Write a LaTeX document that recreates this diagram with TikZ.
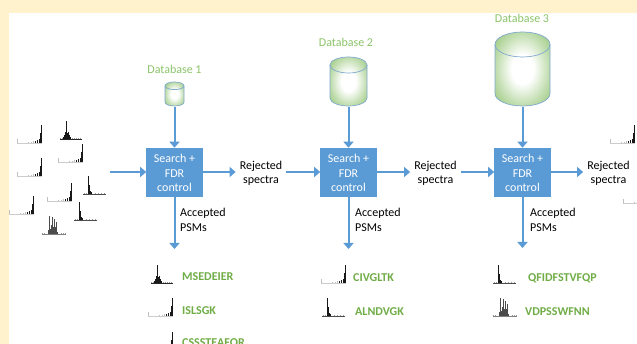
\documentclass[tikz,border=0pt]{standalone}
\usepackage{fontspec}
\setmainfont{Carlito}
\usetikzlibrary{arrows.meta}
\definecolor{cream}{HTML}{FFF2CC}
\definecolor{boxblue}{HTML}{5B9BD5}
\definecolor{pepgreen}{HTML}{70AD47}
\definecolor{dbgreen}{HTML}{8CC46A}
\definecolor{cylgreen}{HTML}{8FC26E}
\definecolor{cyledge}{HTML}{7FA9CF}
\pgfdeclareradialshading{cylshade}{\pgfpoint{0bp}{0bp}}{%
 color(0bp)=(white); color(10bp)=(white); color(24bp)=(cylgreen!55); color(34bp)=(cylgreen!90); color(50bp)=(cylgreen)}
\newcommand{\specbars}[2]{%
 \foreach \bx/\bh in {#1} {\draw[line width=.45pt,black!#2] (\bx,0) -- (\bx,-\bh);}}
\newcommand{\lowered}{\rule{0pt}{11pt}}
\tikzset{
 x=1pt,y=-1pt,
 searchbox/.style={fill=boxblue,draw=boxblue,line width=.6pt,text=white,font=\fontsize{12}{14.5}\selectfont,
   minimum width=56pt,minimum height=48pt,inner sep=0pt,align=center},
 flow/.style={draw=boxblue,line width=2pt,-{Triangle[length=6pt,width=10pt]}},
 reject/.style={font=\fontsize{12}{14.5}\selectfont,align=center,inner sep=4pt},
 accept/.style={font=\fontsize{12}{14.5}\selectfont,align=left,anchor=west,inner sep=0pt},
 dblabel/.style={text=dbgreen,font=\fontsize{12}{14}\selectfont,inner sep=0pt},
 peptide/.style={text=pepgreen,font=\fontsize{12}{14}\selectfont\bfseries,anchor=west,inner sep=0pt},
 dbanchor/.style={inner sep=0pt,minimum width=2pt,minimum height=2pt},
 specR/.pic={
  \specbars{0/4,11/1,14/1,16/2}{25}
  \specbars{18.5/2,20.5/3,22.5/4,23/7,23.6/10,24.1/18,24.6/11}{90}
  \draw[line width=.3pt,black!20] (0,0) -- (25,0);},
 specP/.pic={
  \specbars{3/1,5/1,15/1,17/1,19/1,21/1,23/1}{40}
  \specbars{6.5/2,7.5/4,8.2/7,8.8/18,9.4/10,10.2/6,11/7,11.8/4,12.6/3,13.6/2}{90}
  \draw[line width=.4pt,black!85] (3,0) -- (25,0);},
 specN/.pic={
  \specbars{2/1,4/1,13/1,16/1,19/1,22/1}{40}
  \specbars{5.8/2,6.7/18,7.3/9,8/3,9/2}{90}
  \draw[line width=.4pt,black!70] (1,0) -- (24,0);},
 specC/.pic={
  \specbars{1/1,3/1,20/1,22/1,24/1}{40}
  \specbars{7/4,8/18,9/5,10/9,11/17,12/7,13/15,14/7,15/12,16/2}{70}
  \draw[line width=.3pt,black!50] (1,0) -- (25,0);},
}
\newcommand{\database}[6]{% name, x left, x right, y top, y bottom, ry
 \pgfmathsetmacro{\rxv}{(#3-#2)/2}
 \pgfmathsetmacro{\cxv}{(#3+#2)/2}
 \pgfmathsetmacro{\tyv}{#4+#6}
 \pgfmathsetmacro{\byv}{#5-#6}
 \path[shading=cylshade,draw=none] (#2,\tyv) arc[start angle=180,end angle=360,x radius=\rxv,y radius=#6] -- (#3,\byv) arc[start angle=0,end angle=180,x radius=\rxv,y radius=#6] -- cycle;
 \draw[cyledge,line width=.7pt] (#2,\tyv) arc[start angle=180,end angle=360,x radius=\rxv,y radius=#6] -- (#3,\byv) arc[start angle=0,end angle=180,x radius=\rxv,y radius=#6] -- cycle;
 \draw[cyledge,line width=.7pt] (#2,\tyv) arc[start angle=180,end angle=0,x radius=\rxv,y radius=#6];
 \node[dbanchor] (#1) at (\cxv,#5) {};
}
\begin{document}
\begin{tikzpicture}
\useasboundingbox (0,0) rectangle (637,344);
\clip (0,0) rectangle (637,344);
\fill[cream] (0,0) rectangle (637,344);
\fill[white] (9,13) rectangle (637,344);

% input spectra
\pic at (17,143) {specR};
\pic at (57,139) {specP};
\pic at (58,162) {specR};
\pic at (17,176) {specR};
\pic at (82,194) {specN};
\pic at (47,201) {specR};
\pic at (9,214) {specR};
\pic at (73,220) {specN};
\pic at (41,234) {specC};
% right spectra
\pic at (610,143) {specR};
\pic at (623,203) {specR};

% databases
\database{db1}{165}{184}{82}{106}{3.8}
\database{db2}{330}{367}{57}{106}{8}
\database{db3}{495}{550}{32}{106}{12.5}
\node[dblabel] (l1) at (174.5,69.5) {Database 1};
\node[dblabel] (l2) at (346,42) {Database 2};
\node[dblabel] (l3) at (522,18) {Database 3};

% boxes
\node[searchbox] (b1) at (174.5,172) {\lowered Search +\\FDR\\control};
\node[searchbox] (b2) at (348.5,172) {\lowered Search +\\FDR\\control};
\node[searchbox] (b3) at (522.5,172) {\lowered Search +\\FDR\\control};

% rejected
\node[reject] (r1) at (261,172) {\lowered Rejected\\spectra};
\node[reject] (r2) at (435.5,172) {\lowered Rejected\\spectra};
\node[reject] (r3) at (608.5,172) {\lowered Rejected\\spectra};

\coordinate (in) at (110,172);
\coordinate (d1) at (174.5,249);
\coordinate (d2) at (348.5,249);
\coordinate (d3) at (522.5,248);

\draw[flow] (db1.south) -- (b1.north);
\draw[flow] (db2.south) -- (b2.north);
\draw[flow] (db3.south) -- (b3.north);
\draw[flow] (in) -- (b1.west);
\draw[flow] (b1.east) -- (r1.west);
\draw[flow] (r1.east) -- (b2.west);
\draw[flow] (b2.east) -- (r2.west);
\draw[flow] (r2.east) -- (b3.west);
\draw[flow] (b3.east) -- (r3.west);
\draw[flow] (b1.south) -- (d1);
\draw[flow] (b2.south) -- (d2);
\draw[flow] (b3.south) -- (d3);

% accepted
\node[accept] (a1) at (180,220) {Accepted\\PSMs};
\node[accept] (a2) at (355,220) {Accepted\\PSMs};
\node[accept] (a3) at (530,220) {Accepted\\PSMs};

% results
\pic at (148,283) {specP};
\pic at (148,316) {specR};
\pic at (148,350) {specR};
\node[peptide] (p1) at (182,277) {MSEDEIER};
\node[peptide] (p2) at (182,311) {ISLSGK};
\node[peptide] (p3) at (182,343) {CSSSTEAFQR};
\pic at (321,283) {specR};
\pic at (321,316) {specN};
\node[peptide] (p4) at (353,278) {CIVGLTK};
\node[peptide] (p5) at (355,312) {ALNDVGK};
\pic at (492,283) {specN};
\pic at (492,316) {specC};
\node[peptide] (p6) at (528,278) {QFIDFSTVFQP};
\node[peptide] (p7) at (525,312) {VDPSSWFNN};
\end{tikzpicture}
\end{document}
